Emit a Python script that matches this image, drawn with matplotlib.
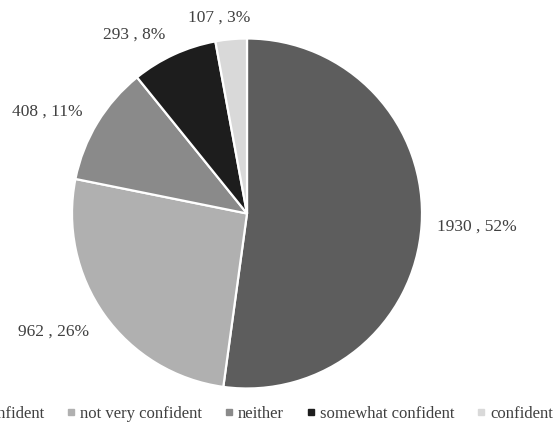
import matplotlib
matplotlib.use("Agg")
import matplotlib.pyplot as plt
import numpy as np
from matplotlib.lines import Line2D

plt.rcParams['font.family'] = ['Liberation Serif', 'DejaVu Serif']

categories = ["not confident", "not very confident", "neither", "somewhat confident", "confident"]
counts = [1930, 962, 408, 293, 107]
colors = ["#5d5d5d", "#b0b0b0", "#8a8a8a", "#1d1d1d", "#d9d9d9"]
# value-label placement: radial distance (pie radii) and angular nudge (deg)
label_dist = [1.317, 1.294, 1.282, 1.207, 1.128]
label_nudge = [0.5, -3.85, 4.3, 7.6, 3.0]

W, H, DPI = 553, 423, 100
fig = plt.figure(figsize=(W / DPI, H / DPI), dpi=DPI)
ax = fig.add_axes([0, 0, 1, 1])

total = sum(counts)
wedges, _ = ax.pie(counts, colors=colors, startangle=90, counterclock=False,
                   wedgeprops=dict(edgecolor="white", linewidth=1.6))

for w, c, d, nudge in zip(wedges, counts, label_dist, label_nudge):
    mid = np.deg2rad((w.theta1 + w.theta2) / 2 + nudge)
    pct = round(100 * c / total)
    ax.text(d * np.cos(mid), d * np.sin(mid), f"{c} , {pct}%",
            ha="center", va="center", fontsize=12.5, color="#404040")

# pie centre and radius in pixels
cx, cy, r = 247, H - 213.5, 175
ax.set_xlim(-cx / r, (W - cx) / r)
ax.set_ylim(-cy / r, (H - cy) / r)
ax.set_aspect("auto")
ax.axis("off")

handles = [Line2D([], [], linestyle="none", marker="s", markersize=4.3,
                  markerfacecolor=col, markeredgecolor=col) for col in colors]
fig.legend(handles, categories, ncol=5, loc="center",
           bbox_to_anchor=(0.449, 9 / H), frameon=False, fontsize=12,
           handlelength=0.45, handletextpad=0.3, columnspacing=1.4,
           labelcolor="#404040")

fig.savefig("out.png", dpi=DPI, facecolor="white")
